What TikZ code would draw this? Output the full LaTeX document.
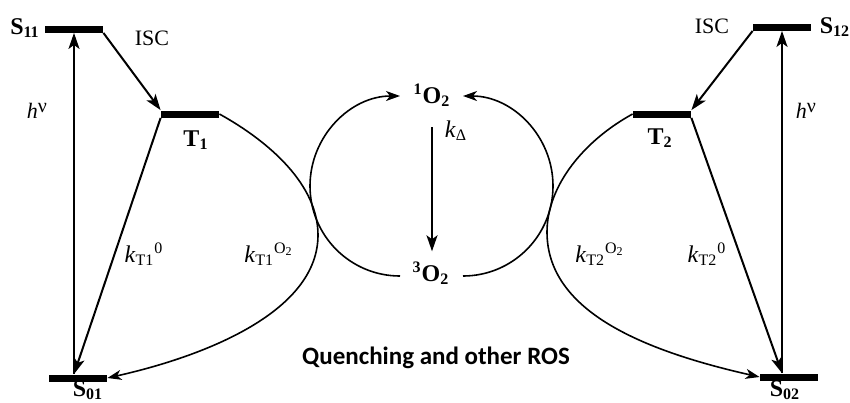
\documentclass[tikz,border=0pt]{standalone}
\usepackage{fontspec}
\setmainfont{Liberation Serif}
\newfontfamily\quenchfont{Carlito}
\usetikzlibrary{arrows.meta,positioning}
\tikzset{
  font=\fontsize{12}{14}\selectfont,
  lvl/.style  ={fill=black, inner sep=0pt, minimum width=29pt, minimum height=3.5pt},
  lbl/.style  ={inner sep=0pt, anchor=base, font=\fontsize{12}{14}\selectfont\bfseries},
  rate/.style ={inner sep=0pt, anchor=base},
  note/.style ={inner sep=0pt, anchor=base, font=\fontsize{11}{13}\selectfont},
  arr/.style  ={-{Stealth[length=8pt, width=5.5pt, inset=2pt]}, line width=1pt},
  carr/.style ={-{Stealth[length=7pt, width=5pt, inset=2pt]}, line width=0.8pt},
}
\newcommand{\hnu}{\textit{h}\raisebox{0.55ex}{\fontsize{10}{12}\selectfont ν}}

\begin{document}
\begin{tikzpicture}[x=0.5pt, y=-0.5pt]
  \useasboundingbox (0,0) rectangle (850,402);

  % energy levels, left and right
  \node[lvl] (S11) at (74,29)   {};
  \node[lvl] (T1)  at (190,114) {};
  \node[lvl] (S01) at (78,378)  {};
  \node[lvl] (S12) at (782,27)  {};
  \node[lvl] (T2)  at (662,114) {};
  \node[lvl] (S02) at (789,377) {};
  \node[lbl] (lS11) at (25,34)   {S\textsubscript{11}};
  \node[lbl] (lT1)  at (196,146) {T\textsubscript{1}};
  \node[lbl] (lS01) at (88,396)  {S\textsubscript{01}};
  \node[lbl] (lS12) at (835,33)  {S\textsubscript{12}};
  \node[lbl] (lT2)  at (660,144) {T\textsubscript{2}};
  \node[lbl] (lS02) at (785,396) {S\textsubscript{02}};

  % absorption, ISC and decay
  \draw[arr] (S11.south |- S01.north) -- (S11.south);
  \draw[arr] (S11.south east) -- (T1.north west);
  \draw[arr] (T1.south west) -- (S11.south |- S01.north);
  \draw[arr] (S12.south |- S02.north) -- (S12.south);
  \draw[arr] (S12.south west) -- (T2.north east);
  \draw[arr] (T2.south east) -- (S12.south |- S02.north);
  \node[note] (isc1) at (152,45)  {ISC};
  \node[note] (isc2) at (712,33)  {ISC};
  \node[note] (hv1)  at (37,118)  {\hnu};
  \node[note] (hv2)  at (806,118) {\hnu};
  \node[rate] (k10)  at (144,262) {\textit{k}\textsubscript{T1}\textsuperscript{0}};
  \node[rate] (k20)  at (707,262) {\textit{k}\textsubscript{T2}\textsuperscript{0}};

  % oxygen cycle
  \node[lbl] (O1) at (432,103) {\textsuperscript{1}O\textsubscript{2}};
  \node[lbl] (O3) at (431,281) {\textsuperscript{3}O\textsubscript{2}};
  \coordinate (arcL) at (400,276);
  \coordinate (arcR) at (463,276);
  \draw[carr] (arcL) arc[start angle=-90, end angle=-270, radius=45pt];
  \draw[carr] (arcR) arc[start angle=-90, end angle=90, radius=45pt];
  \draw[arr, shorten <=10pt, shorten >=5pt] (O1.south) -- (O1.south |- O3.north);
  \node[rate] (kD) at (456,137) {\textit{k}\textsubscript{Δ}};

  % quenching by oxygen
  \draw[carr] (T1.east) .. controls (270,142) and (318,185) .. (318,235)
              .. controls (318,310) and (210,355) .. (S01.east);
  \draw[carr] (T2.west) .. controls (585,140) and (547,185) .. (547,232)
              .. controls (547,310) and (640,350) .. (S02.west);
  \node[rate] (k1O) at (269,262) {\textit{k}\textsubscript{T1}\textsuperscript{O\textsubscript{2}}};
  \node[rate] (k2O) at (600,262) {\textit{k}\textsubscript{T2}\textsuperscript{O\textsubscript{2}}};
  \node[inner sep=0pt, anchor=base, font=\fontsize{12.5}{15}\selectfont\quenchfont\bfseries]
        (qn) at (436,364) {Quenching and other ROS};
\end{tikzpicture}
\end{document}
